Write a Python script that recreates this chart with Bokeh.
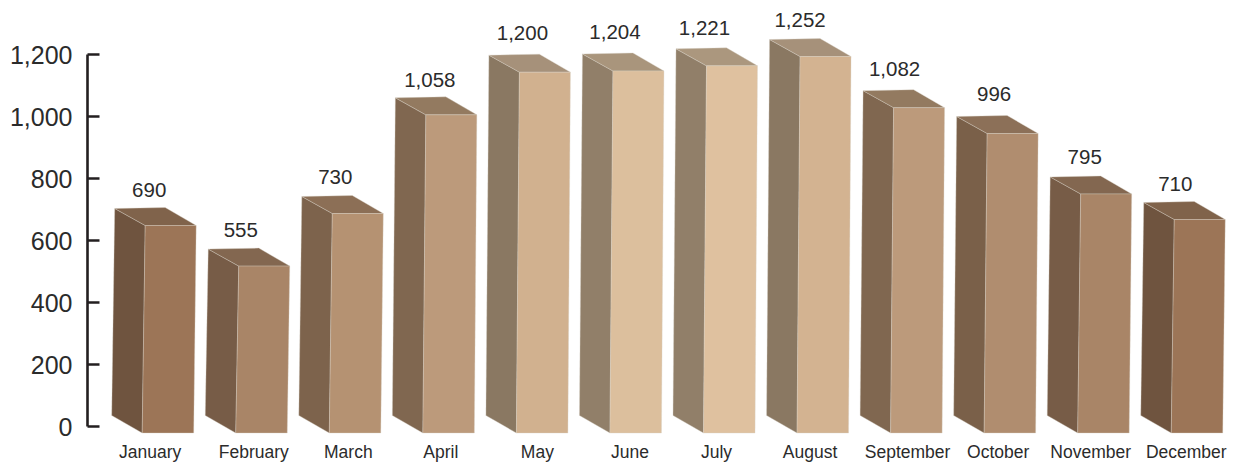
from bokeh.plotting import figure
from bokeh.models import Range1d, FixedTicker, NumeralTickFormatter
from bokeh.core.properties import value
from bokeh.embed import file_html
from bokeh.resources import INLINE

months = ["January", "February", "March", "April", "May", "June", "July",
          "August", "September", "October", "November", "December"]
values = [690, 555, 730, 1058, 1200, 1204, 1221, 1252, 1082, 996, 795, 710]
value_labels = ["690", "555", "730", "1,058", "1,200", "1,204", "1,221",
                "1,252", "1,082", "996", "795", "710"]
y_ticks = [0, 200, 400, 600, 800, 1000, 1200]

side_colors = ["#6f543f", "#775c47", "#7d634c", "#806750", "#8a7862", "#917f69",
               "#917f69", "#8a7862", "#806750", "#7a6049", "#775c47", "#6f543f"]
top_colors = ["#80634b", "#836750", "#8c6f56", "#937a60", "#a6917a", "#a9957c",
              "#ab977e", "#a6917a", "#937a60", "#8c7058", "#836750", "#80634b"]
front_colors = ["#9c7557", "#a98567", "#b59272", "#bc9a7b", "#d1b18f", "#dcbf9d",
                "#dfc19f", "#d3b391", "#bc9a7b", "#b08d6f", "#a98567", "#9c7557"]

# layout (screen pixels of the window, value units via the y scale)
PX = 0.31            # pixels per axis unit
ZERO = 426           # window y of value 0
WIDTH, HEIGHT = 1236, 463
BAR_X0, BAR_STEP = 144.7, 93.55
BAR_W = 51
DEPTH_X = 31
DEPTH_Y = 17 / PX
SKEW = 3
BASE = -6.5 / PX     # front bottom below the zero line
SHRINK = 0.97        # bars are drawn slightly shorter than the axis scale
SIDE_DROP = 18.5 / PX

label_dx = [30, 28, 29, 30, 29, 28, 24, 26, 27, 33, 30, 27]
label_dy = [0, 0, 0, -1, 3, 3, 2, 1, 3, 4, 1, 0]
month_dx = [30, 40, 41, 40, 43, 42, 35, 35, 39, 36, 35, 37]
FONT = "Liberation Sans"

p = figure(width=WIDTH, height=HEIGHT, output_backend="svg", toolbar_location=None,
           x_range=Range1d(0, WIDTH),
           y_range=Range1d((ZERO - HEIGHT) / PX, ZERO / PX),
           min_border=0, outline_line_color=None)
p.grid.visible = False
p.xaxis.visible = False

ax = p.yaxis[0]
ax.fixed_location = 87
ax.bounds = (0, 1200)
ax.ticker = FixedTicker(ticks=y_ticks)
ax.formatter = NumeralTickFormatter(format="0,0")
ax.axis_line_color = "#231f20"
ax.axis_line_width = 2.6
ax.major_tick_line_color = "#231f20"
ax.major_tick_line_width = 2.6
ax.major_tick_in = 12
ax.major_tick_out = 0
ax.minor_tick_line_color = None
ax.major_label_text_font = FONT
ax.major_label_text_font_size = "25px"
ax.major_label_text_color = "#2b2b2b"
ax.major_label_standoff = 15

sx, sy, tx, ty, fx, fy = [], [], [], [], [], []
lab_x, lab_y, mon_x = [], [], []
for i, v in enumerate(values):
    x = BAR_X0 + BAR_STEP * i
    top = BASE + SHRINK * v
    fx.append([x, x + BAR_W, x + BAR_W - 2.5, x - SKEW])
    fy.append([top, top, BASE, BASE])
    sx.append([x - DEPTH_X + 0.5, x, x - SKEW, x - DEPTH_X - 2.5])
    sy.append([top + DEPTH_Y, top, BASE, BASE + SIDE_DROP * 0.95])
    tx.append([x - DEPTH_X + 0.5, x + 20, x + BAR_W, x])
    ty.append([top + DEPTH_Y, top + DEPTH_Y + 1 / PX, top, top])
    lab_x.append(x - DEPTH_X + label_dx[i] + 5)
    lab_y.append(top + DEPTH_Y + (19 + label_dy[i]) / PX)
    mon_x.append(x - DEPTH_X + month_dx[i] + 6)

edge = dict(line_color="#d9d2c8", line_width=0.6, line_alpha=0.6)
p.patches(sx, sy, fill_color=side_colors, **edge)
p.patches(tx, ty, fill_color=top_colors, **edge)
p.patches(fx, fy, fill_color=front_colors, **edge)

p.text(lab_x, lab_y, text=value_labels, text_align="center", text_baseline="middle",
       text_font=value(FONT), text_font_size="20.5px", text_color="#2b2b2b")
p.text(mon_x, [-25 / PX] * 12, text=months, text_align="center", text_baseline="middle",
       text_font=value(FONT), text_font_size="17.5px", text_color="#2b2b2b")

open("out.html", "w").write(file_html(p, INLINE))
